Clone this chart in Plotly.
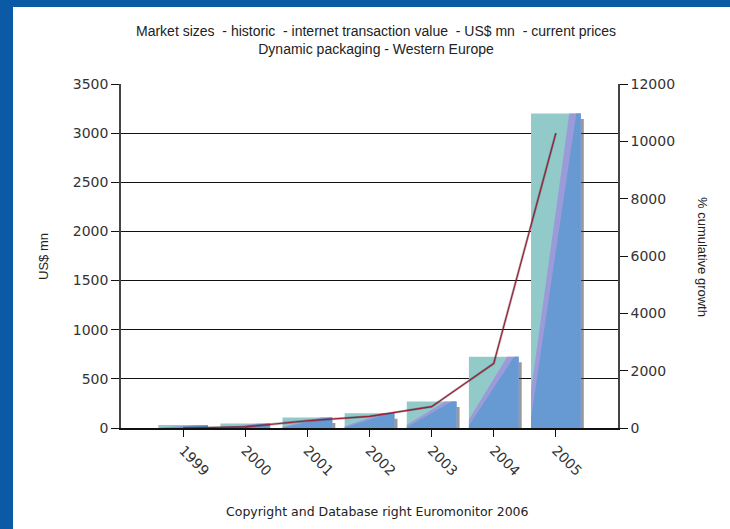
import plotly.graph_objects as go

years = ["1999", "2000", "2001", "2002", "2003", "2004", "2005"]
market_size = [31, 47, 108, 149, 270, 725, 3200]          # US$ mn (left axis)
cum_growth = [0, 40, 254, 407, 745, 2250, 10290]          # % cumulative growth (right axis)

W, H = 730, 529
L, R, T, B = 121, 112, 84, 101
pw, ph = W - L - R, H - T - B

def px_x(px):
    return (px - L) / pw

def px_y(py):
    return (H - B - py) / ph

TEAL = "#92caca"
PURPLE = "#9c9bda"
BLUE = "#679ad2"

xs = list(range(len(years)))
bw = 0.8

fig = go.Figure()

# shadow bars
fig.add_trace(go.Bar(
    x=xs, y=[v - 28 for v in market_size], base=[-28] * len(xs),
    width=bw, offset=-bw / 2 + 0.05,
    marker=dict(color="rgba(70,70,70,0.55)", line=dict(width=0)),
    hoverinfo="skip", showlegend=False))

# main (teal) bars
fig.add_trace(go.Bar(
    x=xs, y=market_size, width=bw,
    marker=dict(color=TEAL, line=dict(width=0)),
    showlegend=False))

# diagonal gradient bands as filled polygons
for color, b_left, t_top in [(PURPLE, 0.12, 0.77), (BLUE, 0.03, 0.91)]:
    px_list, py_list = [], []
    for i, v in zip(xs, market_size):
        x0, x1 = i - bw / 2, i + bw / 2
        px_list += [x0, x0 + t_top * bw, x1, x1, x0, x0, None]
        py_list += [b_left * v, v, v, 0, 0, b_left * v, None]
    fig.add_trace(go.Scatter(
        x=px_list, y=py_list, mode="lines", fill="toself",
        fillcolor=color, line=dict(width=0), hoverinfo="skip",
        showlegend=False))

# growth line (with soft shadow)
fig.add_trace(go.Scatter(
    x=xs, y=cum_growth, yaxis="y2", mode="lines",
    line=dict(color="rgba(40,20,30,0.35)", width=2.4),
    hoverinfo="skip", showlegend=False))
fig.add_trace(go.Scatter(
    x=xs, y=cum_growth, yaxis="y2", mode="lines",
    line=dict(color="#9e1c34", width=1.1),
    showlegend=False))

tick_font = dict(family="DejaVu Sans, Verdana, sans-serif", size=14, color="#333333")

fig.update_layout(
    width=W, height=H, autosize=False,
    margin=dict(l=L, r=R, t=T, b=B, pad=0),
    paper_bgcolor="#0b5aa5",
    plot_bgcolor="rgba(0,0,0,0)",
    barmode="overlay",
    showlegend=False,
    xaxis=dict(
        range=[-1, len(years)], tickmode="array", tickvals=xs, ticktext=years,
        tickangle=45, ticks="outside", ticklen=7, tickcolor="#111",
        showline=True, linecolor="#111", linewidth=1.5,
        showgrid=False, zeroline=False, tickfont=tick_font),
    yaxis=dict(
        range=[0, 3500], dtick=500, ticks="outside", ticklen=8, tickcolor="#111",
        showline=True, linecolor="#444", linewidth=1.5, tickformat="d",
        showgrid=True, gridcolor="#111", gridwidth=1, zeroline=False,
        tickfont=tick_font),
    yaxis2=dict(
        range=[0, 12000], dtick=2000, overlaying="y", side="right",
        ticks="outside", ticklen=8, tickcolor="#111", tickformat="d",
        showline=True, linecolor="#444", linewidth=1.5,
        showgrid=False, zeroline=False, tickfont=tick_font),
    shapes=[dict(
        type="rect", xref="paper", yref="paper", layer="below",
        x0=px_x(13), x1=px_x(W + 5), y0=px_y(H + 5), y1=px_y(7),
        fillcolor="white", line=dict(width=0))],
    annotations=[
        dict(text="Market sizes  - historic  - internet transaction value  - US$ mn  - current prices<br>Dynamic packaging - Western Europe",
             xref="paper", yref="paper", x=px_x(376), y=px_y(40),
             xanchor="center", yanchor="middle", showarrow=False,
             font=dict(family="Liberation Sans Narrow, Arial Narrow, Liberation Sans, Arial", size=14, color="#222222")),
        dict(text="US$ mn", textangle=-90,
             xref="paper", yref="paper", x=px_x(43), y=px_y(257),
             xanchor="center", yanchor="middle", showarrow=False,
             font=dict(family="Liberation Sans, Arial, sans-serif", size=13, color="#222222")),
        dict(text="% cumulative growth", textangle=90,
             xref="paper", yref="paper", x=px_x(703), y=px_y(257),
             xanchor="center", yanchor="middle", showarrow=False,
             font=dict(family="Liberation Sans, Arial, sans-serif", size=13, color="#222222")),
        dict(text="Copyright and Database right Euromonitor 2006",
             xref="paper", yref="paper", x=px_x(377), y=px_y(511),
             xanchor="center", yanchor="middle", showarrow=False,
             font=dict(family="DejaVu Sans, Verdana, sans-serif", size=12.5, color="#222222")),
    ],
)

fig.write_html("out.html")
